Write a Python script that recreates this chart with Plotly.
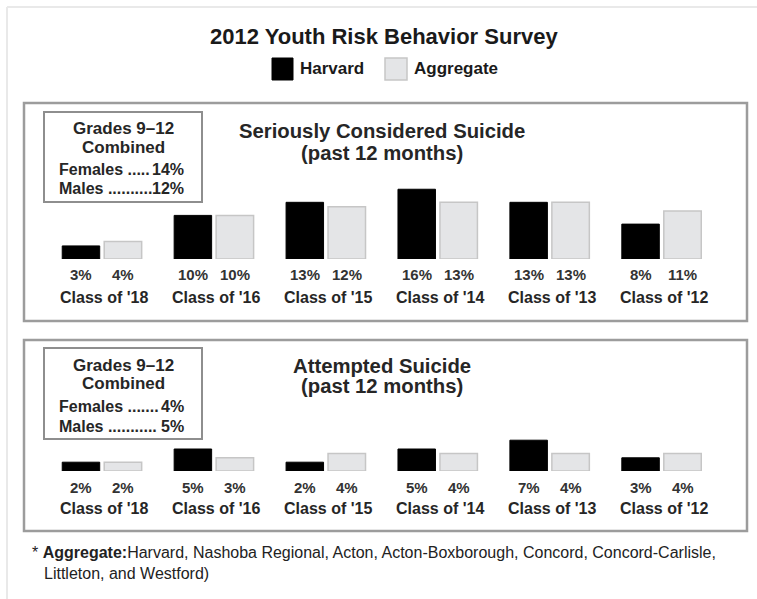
import plotly.graph_objects as go

# ---------------- data ----------------
classes = ["Class of '18", "Class of '16", "Class of '15", "Class of '14", "Class of '13", "Class of '12"]
considered_harvard = [3, 10, 13, 16, 13, 8]
considered_aggregate = [4, 10, 12, 13, 13, 11]
attempted_harvard = [2, 5, 2, 5, 7, 3]
attempted_aggregate = [2, 3, 4, 4, 4, 4]
considered_combined = {"Females": 14, "Males": 12}
attempted_combined = {"Females": 4, "Males": 5}

main_title = "2012 Youth Risk Behavior Survey"
series_names = ["Harvard", "Aggregate"]
panel_titles = [("Seriously Considered Suicide", "(past 12 months)"),
                ("Attempted Suicide", "(past 12 months)")]
footnote_1 = "* <b>Aggregate:</b>Harvard, Nashoba Regional, Acton, Acton-Boxborough, Concord, Concord-Carlisle,"
footnote_2 = "Littleton, and Westford)"

# ---------------- layout helpers ----------------
W, H = 757, 599
FONT = "Liberation Sans, Arial, sans-serif"
BLACK = "#000000"
GRAY_FILL = "#e4e5e7"
GRAY_LINE = "#c6c6c6"
TXT = "#262626"


def px(x):
    return x / W


def py(y):
    return 1 - y / H


fig = go.Figure()

fig.add_trace(go.Bar(x=classes, y=considered_harvard, name=series_names[0],
                     marker=dict(color=BLACK, line=dict(color=BLACK, width=1)),
                     xaxis="x", yaxis="y", hoverinfo="skip", showlegend=False))
fig.add_trace(go.Bar(x=classes, y=considered_aggregate, name=series_names[1],
                     marker=dict(color=GRAY_FILL, line=dict(color=GRAY_LINE, width=1.5)),
                     xaxis="x", yaxis="y", hoverinfo="skip", showlegend=False))
fig.add_trace(go.Bar(x=classes, y=attempted_harvard, name=series_names[0],
                     marker=dict(color=BLACK, line=dict(color=BLACK, width=1)),
                     xaxis="x2", yaxis="y2", hoverinfo="skip", showlegend=False))
fig.add_trace(go.Bar(x=classes, y=attempted_aggregate, name=series_names[1],
                     marker=dict(color=GRAY_FILL, line=dict(color=GRAY_LINE, width=1.5)),
                     xaxis="x2", yaxis="y2", hoverinfo="skip", showlegend=False))

axis_common = dict(showgrid=False, zeroline=False, showline=False, showticklabels=False,
                   ticks="", fixedrange=True)

x_dom = [px(46), px(717.5)]
fig.update_layout(
    width=W, height=H,
    margin=dict(l=0, r=0, t=0, b=0),
    paper_bgcolor="white", plot_bgcolor="rgba(0,0,0,0)",
    barmode="group", bargap=0.25, bargroupgap=0.107,
    showlegend=False,
    font=dict(family=FONT, color=TXT),
    xaxis=dict(domain=x_dom, anchor="y", type="category", range=[-0.5, 5.5], **axis_common),
    yaxis=dict(domain=[py(259), py(259 - 87.2)], anchor="x", range=[0, 20], **axis_common),
    xaxis2=dict(domain=x_dom, anchor="y2", type="category", range=[-0.5, 5.5], **axis_common),
    yaxis2=dict(domain=[py(471), py(471 - 44)], anchor="x2", range=[0, 10], **axis_common),
)

shapes = []
# outer faint frame
shapes.append(dict(type="line", xref="paper", yref="paper", x0=px(7), x1=px(757), y0=py(7), y1=py(7),
                   line=dict(color="#e9e9e9", width=2)))
shapes.append(dict(type="line", xref="paper", yref="paper", x0=px(7), x1=px(7), y0=py(7), y1=py(599),
                   line=dict(color="#e9e9e9", width=2)))
# panel boxes
for (t, b) in [(103, 321), (340, 531)]:
    shapes.append(dict(type="rect", xref="paper", yref="paper", x0=px(24), x1=px(747), y0=py(b), y1=py(t),
                       line=dict(color="#9c9c9c", width=2.5), layer="below"))
# inset boxes
for (t, b) in [(112, 202), (348, 439)]:
    shapes.append(dict(type="rect", xref="paper", yref="paper", x0=px(44), x1=px(202), y0=py(b), y1=py(t),
                       line=dict(color="#8e8e8e", width=2), layer="below"))
# legend squares
shapes.append(dict(type="rect", xref="paper", yref="paper", x0=px(272), x1=px(293), y0=py(80), y1=py(58),
                   fillcolor=BLACK, line=dict(color=BLACK, width=1)))
shapes.append(dict(type="rect", xref="paper", yref="paper", x0=px(385), x1=px(407), y0=py(80), y1=py(58),
                   fillcolor=GRAY_FILL, line=dict(color=GRAY_LINE, width=1.5)))

ann = []


def text(x, y, s, size, xanchor="center", bold=True, color=TXT):
    ann.append(dict(xref="paper", yref="paper", x=px(x), y=py(y), text=(f"<b>{s}</b>" if bold else s),
                    showarrow=False, xanchor=xanchor, yanchor="middle",
                    font=dict(family=FONT, size=size, color=color)))


text(384, 37, main_title, 22, color="#1a1a1a")
text(298, 69, series_names[0], 17, xanchor="left", color="#1a1a1a")
text(412, 69, series_names[1], 17, xanchor="left", color="#1a1a1a")

# panel titles
for (l1, l2), (y1, y2) in zip(panel_titles, [(131, 153), (366, 386)]):
    text(382, y1, l1, 20.3)
    text(382, y2, l2, 20.3)

# insets
for combo, ys in [(considered_combined, (128, 147, 169, 188)), (attempted_combined, (365, 383, 407, 426))]:
    text(123, ys[0], "Grades 9\u201312", 17)
    text(123, ys[1], "Combined", 17)
    f, m = combo["Females"], combo["Males"]
    fd = "....." if f >= 10 else "......."
    md = ".........." if m >= 10 else "..........."
    text(57, ys[2], "Females " + fd, 16, xanchor="left")
    text(186, ys[2], f"{f}%", 16, xanchor="right")
    text(57, ys[3], "Males " + md, 16, xanchor="left")
    text(186, ys[3], f"{m}%", 16, xanchor="right")

# value & class labels under bars
for xa, hv, av, yv, yc in [("x", considered_harvard, considered_aggregate, 275, 297),
                           ("x2", attempted_harvard, attempted_aggregate, 487, 508)]:
    for c, h, a in zip(classes, hv, av):
        for v, sh in [(h, -21), (a, 21)]:
            ann.append(dict(xref=xa, yref="paper", x=c, y=py(yv), xshift=sh, text=f"<b>{v}%</b>",
                            showarrow=False, xanchor="center", yanchor="middle",
                            font=dict(family=FONT, size=15, color="#333333")))
        ann.append(dict(xref=xa, yref="paper", x=c, y=py(yc), xshift=2, text=f"<b>{c}</b>",
                        showarrow=False, xanchor="center", yanchor="middle",
                        font=dict(family=FONT, size=16, color=TXT)))

# footnote
text(30, 552, footnote_1, 16, xanchor="left", bold=False, color="#222222")
text(42, 573, footnote_2, 16, xanchor="left", bold=False, color="#222222")

fig.update_layout(shapes=shapes, annotations=ann)
fig.write_html("out.html")
